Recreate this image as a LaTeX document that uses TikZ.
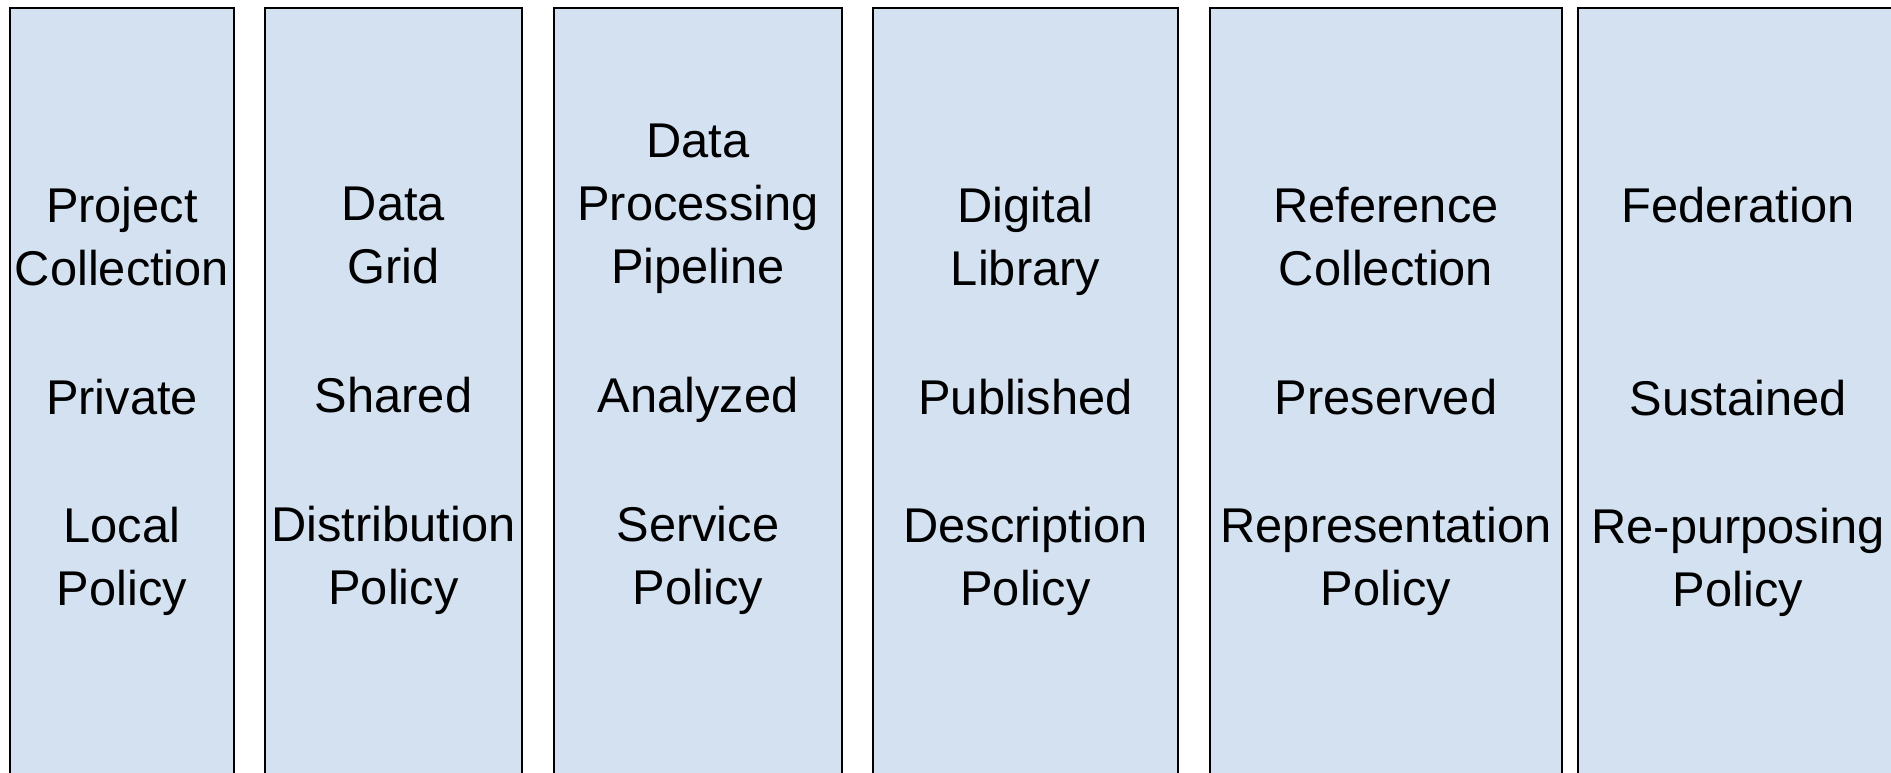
\documentclass[tikz,border=0pt]{standalone}
\usepackage{fontspec}
\setmainfont{Liberation Sans}
\definecolor{colfill}{HTML}{D4E1F1}

\begin{document}
\begin{tikzpicture}[x=0.5pt,y=-0.5pt,
    colbox/.style={draw=black,line width=1pt,fill=colfill},
    coltext/.style={anchor=north,align=center,inner sep=0pt,
        font=\fontsize{24.4}{31.5}\selectfont}]
            \useasboundingbox (0,0) rectangle (1891,772);
            \clip (0,0) rectangle (1891,772);
            % columns: left/right/top of text/label
            \foreach \l/\r/\t/\txt/\name in {
                10/234/187/{Project\\Collection\\[32.8pt]Private\\[32.8pt]Local\\Policy}/project,
                265/522/187/{Data\\Grid\\[32.8pt]Shared\\[32.8pt]Distribution\\Policy}/grid,
                554/842/124/{Data\\Processing\\Pipeline\\[32.8pt]Analyzed\\[32.8pt]Service\\Policy}/pipeline,
                873/1178/187/{Digital\\Library\\[32.8pt]Published\\[32.8pt]Description\\Policy}/library,
                1210/1562/187/{Reference\\Collection\\[32.8pt]Preserved\\[32.8pt]Representation\\Policy}/reference,
                1578/1898/187/{Federation\\[64.8pt]Sustained\\[32.8pt]Re-purposing\\Policy}/federation}
            {
                \draw[colbox] (\l,8) rectangle (\r,800);
                \node[coltext] (\name) at ({(\l+\r)/2},\t) {\txt};
            }
        \end{tikzpicture}
\end{document}
